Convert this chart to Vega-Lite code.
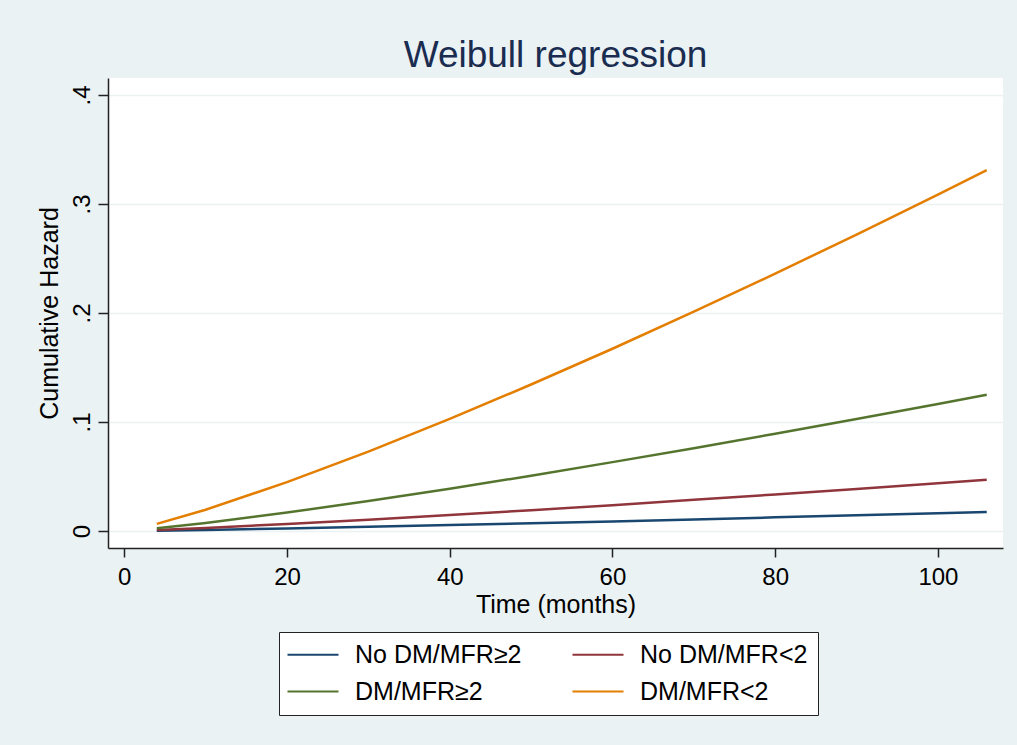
{
  "$schema": "https://vega.github.io/schema/vega-lite/v6.json",
  "autosize": {"type": "none"},
  "width": 895,
  "height": 470,
  "padding": {"left": 108, "top": 78, "right": 14, "bottom": 197},
  "background": "#EAF2F3",
  "config": {
    "font": "Liberation Sans",
    "view": {"fill": "white", "stroke": null},
    "axis": {"labelFont": "Liberation Sans", "titleFont": "Liberation Sans", "labelColor": "black", "titleColor": "black", "domainColor": "#222222", "tickColor": "#222222", "domainWidth": 1.5, "tickWidth": 1.5}
  },
  "title": {"text": "Weibull regression", "fontSize": 37, "font": "Liberation Sans", "fontWeight": "normal", "color": "#1A2C50", "anchor": "middle", "offset": 3},
  "data": {"values": [
    {"t": 4, "h": 0.0003, "g": "No DM/MFR≥2"},
    {"t": 10, "h": 0.0010, "g": "No DM/MFR≥2"},
    {"t": 20, "h": 0.0024, "g": "No DM/MFR≥2"},
    {"t": 30, "h": 0.0038, "g": "No DM/MFR≥2"},
    {"t": 40, "h": 0.0054, "g": "No DM/MFR≥2"},
    {"t": 50, "h": 0.0071, "g": "No DM/MFR≥2"},
    {"t": 60, "h": 0.0088, "g": "No DM/MFR≥2"},
    {"t": 70, "h": 0.0106, "g": "No DM/MFR≥2"},
    {"t": 80, "h": 0.0125, "g": "No DM/MFR≥2"},
    {"t": 90, "h": 0.0144, "g": "No DM/MFR≥2"},
    {"t": 100, "h": 0.0163, "g": "No DM/MFR≥2"},
    {"t": 106, "h": 0.0175, "g": "No DM/MFR≥2"},
    {"t": 4, "h": 0.0009, "g": "No DM/MFR<2"},
    {"t": 10, "h": 0.0028, "g": "No DM/MFR<2"},
    {"t": 20, "h": 0.0064, "g": "No DM/MFR<2"},
    {"t": 30, "h": 0.0103, "g": "No DM/MFR<2"},
    {"t": 40, "h": 0.0146, "g": "No DM/MFR<2"},
    {"t": 50, "h": 0.0191, "g": "No DM/MFR<2"},
    {"t": 60, "h": 0.0237, "g": "No DM/MFR<2"},
    {"t": 70, "h": 0.0286, "g": "No DM/MFR<2"},
    {"t": 80, "h": 0.0335, "g": "No DM/MFR<2"},
    {"t": 90, "h": 0.0386, "g": "No DM/MFR<2"},
    {"t": 100, "h": 0.0438, "g": "No DM/MFR<2"},
    {"t": 106, "h": 0.0470, "g": "No DM/MFR<2"},
    {"t": 4, "h": 0.0025, "g": "DM/MFR≥2"},
    {"t": 10, "h": 0.0074, "g": "DM/MFR≥2"},
    {"t": 20, "h": 0.0169, "g": "DM/MFR≥2"},
    {"t": 30, "h": 0.0275, "g": "DM/MFR≥2"},
    {"t": 40, "h": 0.0388, "g": "DM/MFR≥2"},
    {"t": 50, "h": 0.0507, "g": "DM/MFR≥2"},
    {"t": 60, "h": 0.0632, "g": "DM/MFR≥2"},
    {"t": 70, "h": 0.0760, "g": "DM/MFR≥2"},
    {"t": 80, "h": 0.0892, "g": "DM/MFR≥2"},
    {"t": 90, "h": 0.1027, "g": "DM/MFR≥2"},
    {"t": 100, "h": 0.1166, "g": "DM/MFR≥2"},
    {"t": 106, "h": 0.1250, "g": "DM/MFR≥2"},
    {"t": 4, "h": 0.0065, "g": "DM/MFR<2"},
    {"t": 10, "h": 0.0195, "g": "DM/MFR<2"},
    {"t": 20, "h": 0.0448, "g": "DM/MFR<2"},
    {"t": 30, "h": 0.0728, "g": "DM/MFR<2"},
    {"t": 40, "h": 0.1028, "g": "DM/MFR<2"},
    {"t": 50, "h": 0.1344, "g": "DM/MFR<2"},
    {"t": 60, "h": 0.1672, "g": "DM/MFR<2"},
    {"t": 70, "h": 0.2012, "g": "DM/MFR<2"},
    {"t": 80, "h": 0.2361, "g": "DM/MFR<2"},
    {"t": 90, "h": 0.2720, "g": "DM/MFR<2"},
    {"t": 100, "h": 0.3087, "g": "DM/MFR<2"},
    {"t": 106, "h": 0.3310, "g": "DM/MFR<2"}
  ]},
  "mark": {"type": "line", "strokeWidth": 2.5},
  "encoding": {
    "x": {"field": "t", "type": "quantitative", "scale": {"domain": [-2, 108], "nice": false, "zero": false},
      "axis": {"values": [0, 20, 40, 60, 80, 100], "grid": false, "title": "Time (months)", "titleFontSize": 25, "titleFontWeight": "normal", "titlePadding": 3, "labelFontSize": 24, "labelPadding": 8, "tickSize": 9}},
    "y": {"field": "h", "type": "quantitative", "scale": {"domain": [-0.0156, 0.4156], "nice": false, "zero": false},
      "axis": {"values": [0, 0.1, 0.2, 0.3, 0.4], "grid": true, "gridColor": "#EAF2F3", "gridWidth": 1.5, "title": "Cumulative Hazard", "titleFontSize": 25, "titleFontWeight": "normal", "titlePadding": 8, "labelFontSize": 24, "labelAngle": -90, "labelAlign": "center", "labelBaseline": "alphabetic", "labelPadding": 9, "tickSize": 10,
        "labelExpr": "replace(format(datum.value, '.1~f'), '0.', '.')"}},
    "color": {"field": "g", "type": "nominal", "sort": null,
      "scale": {"domain": ["No DM/MFR≥2", "No DM/MFR<2", "DM/MFR≥2", "DM/MFR<2"], "range": ["#1A476F", "#90353B", "#55752F", "#E37E00"]},
      "legend": {"title": null, "orient": "none", "legendX": 171, "legendY": 554, "columns": 2, "direction": "horizontal", "fillColor": "white", "strokeColor": "#222222", "padding": 10, "columnPadding": 46, "rowPadding": 11, "symbolType": "M-1.4,0H3.7", "symbolSize": 400, "symbolStrokeWidth": 2, "labelFontSize": 25, "labelOffset": 41, "labelLimit": 400, "labelColor": "black", "labelFont": "Liberation Sans"}}
  }
}
